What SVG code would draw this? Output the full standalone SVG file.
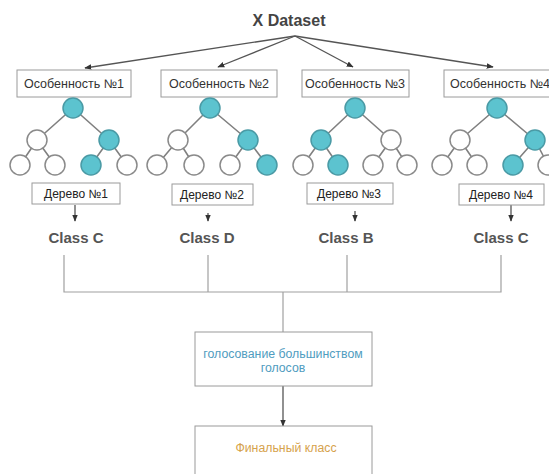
<svg xmlns="http://www.w3.org/2000/svg" width="549" height="474" viewBox="0 0 549 474">
<defs>
<style>
.box{fill:#fff;stroke:#9a9a9a;stroke-width:1}
.ft{font-family:"Liberation Sans",Arial,sans-serif;font-size:12.5px;fill:#333;text-anchor:middle}
.tt{font-family:"Liberation Sans",Arial,sans-serif;font-size:12px;fill:#222;text-anchor:middle}
.cls{font-family:"Liberation Sans",Arial,sans-serif;font-size:15px;font-weight:bold;fill:#555;text-anchor:middle}
.edge{stroke:#808080;stroke-width:1.6;fill:none}
.on{fill:#5cc3cf;stroke:#4a9aa5;stroke-width:1.5}
.off{fill:#fff;stroke:#8a8a8a;stroke-width:1.5}
.con{stroke:#555;stroke-width:1.3;fill:none}
.bus{stroke:#a0a0a0;stroke-width:1.2;fill:none}
.vt{font-family:"Liberation Sans",Arial,sans-serif;font-size:12.3px;fill:#4f9cc0;text-anchor:middle}
</style>
<marker id="ah" viewBox="0 0 10 10" refX="9" refY="5" markerWidth="7" markerHeight="7" orient="auto" markerUnits="userSpaceOnUse">
<path d="M0,1 L10,5 L0,9 z" fill="#333"/>
</marker>
</defs>

<text id="title" x="289" y="26" font-family="Liberation Sans, Arial, sans-serif" font-size="16" font-weight="bold" fill="#444" text-anchor="middle">X Dataset</text>

<g id="connectors">
<line class="con" x1="295" y1="36" x2="85" y2="68" marker-end="url(#ah)"/>
<line class="con" x1="295" y1="36" x2="218" y2="67" marker-end="url(#ah)"/>
<line class="con" x1="295" y1="36" x2="353" y2="67" marker-end="url(#ah)"/>
<line class="con" x1="295" y1="36" x2="493" y2="67" marker-end="url(#ah)"/>
<line class="con" x1="75" y1="205" x2="75" y2="221" marker-end="url(#ah)"/>
<line class="con" x1="208" y1="213" x2="208" y2="221" marker-end="url(#ah)"/>
<line class="con" x1="355" y1="211" x2="355" y2="221" marker-end="url(#ah)"/>
<line class="con" x1="511" y1="205" x2="511" y2="221" marker-end="url(#ah)"/>
<polyline class="bus" points="64,255 64,292 501,292 501,255"/>
<line class="bus" x1="208" y1="255" x2="208" y2="292"/>
<line class="bus" x1="347" y1="255" x2="347" y2="292"/>
<line class="bus" x1="283" y1="292" x2="283" y2="332"/>
<line class="con" x1="283" y1="386" x2="283" y2="426" stroke-width="1.6" marker-end="url(#ah)"/>
</g>

<g id="feature1"><rect class="box" x="17" y="70" width="114" height="27"/><text class="ft" x="74" y="88">Особенность №1</text></g>
<g id="feature2"><rect class="box" x="161" y="70" width="116" height="27"/><text class="ft" x="219" y="88">Особенность №2</text></g>
<g id="feature3"><rect class="box" x="302" y="70" width="107" height="27"/><text class="ft" x="355" y="88">Особенность №3</text></g>
<g id="feature4"><rect class="box" x="444" y="70" width="112" height="27"/><text class="ft" x="500" y="88">Особенность №4</text></g>

<g id="tree1">
<path class="edge" d="M73,108 L37,140 M73,108 L109,140 M37,140 L20,165 M37,140 L55,165 M109,140 L91,165 M109,140 L127,165"/>
<circle class="on" cx="73" cy="108" r="10"/>
<circle class="off" cx="37" cy="140" r="10"/><circle class="on" cx="109" cy="140" r="10"/>
<circle class="off" cx="20" cy="165" r="10"/><circle class="off" cx="55" cy="165" r="10"/><circle class="on" cx="91" cy="165" r="10"/><circle class="off" cx="127" cy="165" r="10"/>
</g>
<g id="tree2">
<path class="edge" d="M210,108 L178,140 M210,108 L248,140 M178,140 L157,165 M178,140 L194,165 M248,140 L230,165 M248,140 L267,165"/>
<circle class="on" cx="210" cy="108" r="10"/>
<circle class="off" cx="178" cy="140" r="10"/><circle class="on" cx="248" cy="140" r="10"/>
<circle class="off" cx="157" cy="165" r="10"/><circle class="off" cx="194" cy="165" r="10"/><circle class="off" cx="230" cy="165" r="10"/><circle class="on" cx="267" cy="165" r="10"/>
</g>
<g id="tree3">
<path class="edge" d="M355,108 L321,140 M355,108 L391,140 M321,140 L303,165 M321,140 L338,165 M391,140 L373,165 M391,140 L407,165"/>
<circle class="on" cx="355" cy="108" r="10"/>
<circle class="on" cx="321" cy="140" r="10"/><circle class="off" cx="391" cy="140" r="10"/>
<circle class="off" cx="303" cy="165" r="10"/><circle class="on" cx="338" cy="165" r="10"/><circle class="off" cx="373" cy="165" r="10"/><circle class="off" cx="407" cy="165" r="10"/>
</g>
<g id="tree4">
<path class="edge" d="M497,108 L460,140 M497,108 L535,140 M460,140 L442,165 M460,140 L477,165 M535,140 L513,165 M535,140 L548,165"/>
<circle class="on" cx="497" cy="108" r="10"/>
<circle class="off" cx="460" cy="140" r="10"/><circle class="on" cx="535" cy="140" r="10"/>
<circle class="off" cx="442" cy="165" r="10"/><circle class="off" cx="477" cy="165" r="10"/><circle class="on" cx="513" cy="165" r="10"/><circle class="off" cx="548" cy="165" r="10"/>
</g>

<g id="treebox1"><rect class="box" x="32" y="183" width="88" height="21"/><text class="tt" x="76" y="198">Дерево №1</text></g>
<g id="treebox2"><rect class="box" x="172" y="184" width="81" height="21"/><text class="tt" x="212" y="199">Дерево №2</text></g>
<g id="treebox3"><rect class="box" x="307" y="183" width="86" height="21"/><text class="tt" x="349" y="198">Дерево №3</text></g>
<g id="treebox4"><rect class="box" x="459" y="184" width="85" height="21"/><text class="tt" x="501" y="199">Дерево №4</text></g>

<g id="class1"><text class="cls" x="76" y="243">Class C</text></g>
<g id="class2"><text class="cls" x="207" y="243">Class D</text></g>
<g id="class3"><text class="cls" x="346" y="243">Class B</text></g>
<g id="class4"><text class="cls" x="501" y="243">Class C</text></g>

<g id="vote"><rect class="box" x="195" y="332" width="177" height="54"/>
<text class="vt" x="283" y="358">голосование большинством</text>
<text class="vt" x="283" y="372">голосов</text></g>

<g id="final"><rect class="box" x="195" y="426" width="177" height="60"/>
<text x="286" y="452" font-family="Liberation Sans, Arial, sans-serif" font-size="12.3" fill="#d6a24c" text-anchor="middle">Финальный класс</text></g>
</svg>
